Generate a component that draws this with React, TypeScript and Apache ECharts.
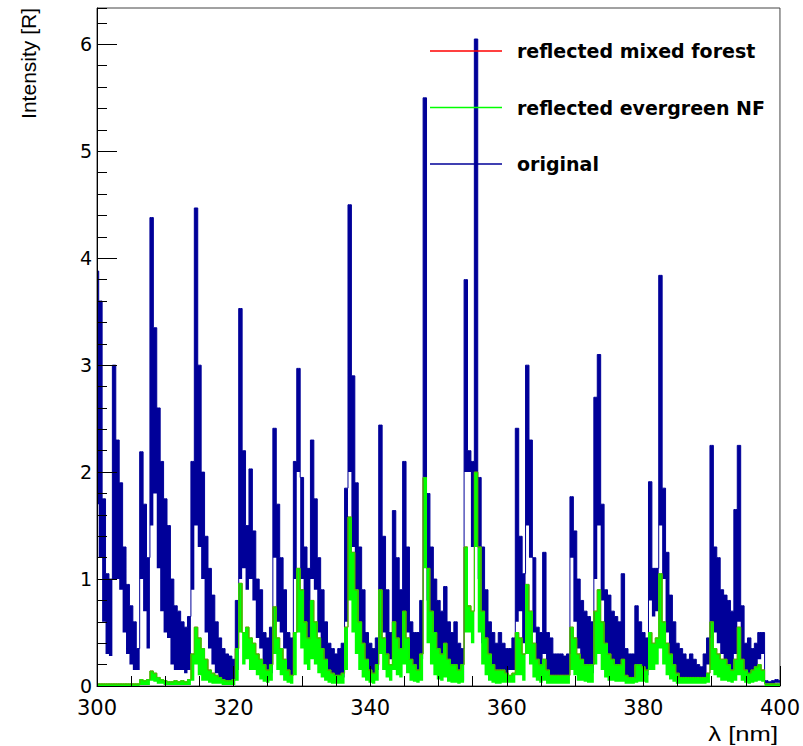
import React, { useEffect, useRef } from 'react';
import * as echarts from 'echarts';

// Wavelength grid: 300 nm to 400 nm in 0.5 nm bins
const wlStart = 300;
const wlStep = 0.5;
const xTickLabels = [300, 320, 340, 360, 380, 400];

// "original" spectrum: upper and lower envelope of the dense histogram per 0.5 nm bin
const originalHi = [
  3.88, 3.6, 1.75, 1.05, 1.0, 3.0, 2.3, 1.9, 1.3, 0.95,
  0.75, 0.6, 0.35, 2.19, 1.7, 1.2, 4.38, 3.35, 2.6, 2.1,
  1.75, 1.5, 1.0, 0.75, 0.7, 0.6, 0.55, 0.65, 2.1, 4.47,
  3.0, 2.0, 1.4, 1.1, 0.85, 0.6, 0.45, 0.35, 0.3, 0.28,
  0.25, 0.8, 3.53, 2.2, 1.5, 2.03, 1.45, 1.0, 0.9, 0.5,
  0.45, 0.55, 2.41, 1.7, 1.2, 0.9, 0.5, 0.45, 2.1, 2.97,
  1.95, 1.3, 1.1, 2.3, 1.75, 1.2, 0.9, 0.6, 0.4, 0.35,
  0.3, 0.35, 0.4, 1.85, 4.5, 2.9, 1.9, 1.3, 0.9, 0.5,
  0.4, 0.35, 0.45, 2.44, 1.4, 0.9, 0.5, 1.64, 1.2, 0.9,
  2.1, 1.3, 0.6, 0.5, 0.5, 0.8, 5.5, 1.8, 1.3, 1.0,
  0.8, 0.7, 0.93, 0.6, 0.5, 0.6, 0.4, 0.35, 3.8, 2.2,
  2.1, 6.05, 1.95, 1.3, 0.9, 0.6, 0.5, 0.4, 0.5, 0.4,
  0.35, 0.35, 0.45, 2.41, 1.4, 1.05, 3.0, 2.3, 1.2, 0.55,
  0.5, 1.25, 0.5, 0.45, 0.3, 0.3, 0.3, 0.28, 0.3, 1.77,
  1.45, 1.0, 0.8, 0.7, 0.65, 0.6, 2.7, 3.1, 1.7, 0.9,
  0.85, 0.7, 0.65, 0.6, 1.05, 0.35, 0.3, 0.3, 0.75, 0.6,
  0.5, 0.45, 1.91, 1.1, 1.1, 3.84, 1.85, 1.25, 0.85, 0.6,
  0.4, 0.35, 0.3, 0.25, 0.3, 0.25, 0.2, 0.18, 0.3, 0.45,
  2.25, 1.3, 1.2, 0.9, 0.85, 0.8, 0.7, 1.65, 2.25, 0.75,
  0.4, 0.45, 0.35, 0.4, 0.5, 0.5, 0.05, 0.04, 0.05, 0.06,
  0.05,
];
const originalLo = [
  1.7, 1.2, 0.6, 0.3, 0.28, 1.0, 1.0, 0.9, 0.5, 0.3,
  0.2, 0.15, 0.15, 1.0, 0.7, 0.35, 1.5, 1.8, 1.1, 0.7,
  0.5, 0.45, 0.2, 0.15, 0.15, 0.15, 0.12, 0.15, 0.9, 1.5,
  1.3, 1.0, 0.5, 0.35, 0.2, 0.12, 0.08, 0.06, 0.05, 0.04,
  0.05, 0.15, 1.0, 1.1, 0.9, 1.0, 0.8, 0.45, 0.35, 0.15,
  0.1, 0.12, 1.2, 0.6, 0.5, 0.35, 0.12, 0.1, 1.0, 2.0,
  1.0, 0.6, 0.4, 1.0, 0.9, 0.5, 0.35, 0.2, 0.1, 0.08,
  0.06, 0.05, 0.08, 0.6, 2.0, 1.3, 0.8, 0.4, 0.25, 0.12,
  0.08, 0.1, 0.15, 0.6, 0.5, 0.3, 0.25, 0.6, 0.45, 0.35,
  0.6, 0.5, 0.2, 0.15, 0.12, 0.25, 1.5, 0.8, 0.4, 0.25,
  0.2, 0.15, 0.2, 0.1, 0.08, 0.06, 0.05, 0.05, 2.0, 2.0,
  1.3, 2.0, 1.0, 0.4, 0.25, 0.12, 0.08, 0.06, 0.05, 0.1,
  0.12, 0.15, 0.15, 0.6, 0.7, 0.4, 1.5, 1.2, 0.5, 0.2,
  0.15, 0.3, 0.12, 0.1, 0.05, 0.05, 0.1, 0.08, 0.1, 1.2,
  0.6, 0.35, 0.25, 0.2, 0.15, 0.12, 1.0, 1.5, 0.8, 0.35,
  0.2, 0.2, 0.15, 0.15, 0.2, 0.05, 0.05, 0.06, 0.1, 0.12,
  0.1, 0.1, 0.8, 0.65, 0.7, 1.5, 1.0, 0.5, 0.3, 0.15,
  0.08, 0.05, 0.05, 0.04, 0.05, 0.04, 0.03, 0.03, 0.05, 0.2,
  0.6, 0.5, 0.4, 0.3, 0.25, 0.2, 0.15, 0.3, 0.6, 0.2,
  0.1, 0.05, 0.05, 0.08, 0.25, 0.3, 0.02, 0.02, 0.02, 0.03,
  0.03,
];

// "reflected evergreen NF": upper and lower envelope per bin
const evergreenHi = [
  0.02, 0.02, 0.02, 0.02, 0.02, 0.02, 0.02, 0.02, 0.02, 0.02,
  0.02, 0.02, 0.02, 0.06, 0.05, 0.06, 0.14, 0.12, 0.08, 0.06,
  0.05, 0.04, 0.04, 0.05, 0.04, 0.05, 0.04, 0.06, 0.3, 0.55,
  0.45, 0.35, 0.25, 0.15, 0.12, 0.1, 0.08, 0.06, 0.05, 0.05,
  0.06, 0.35, 0.96, 0.5, 0.55, 0.45, 0.4, 0.3, 0.25, 0.2,
  0.15, 0.2, 0.74, 0.45, 0.35, 0.25, 0.15, 0.1, 0.5, 1.1,
  0.9, 0.6, 0.45, 0.8, 0.6, 0.45, 0.35, 0.25, 0.15, 0.12,
  0.1, 0.1, 0.12, 0.55, 1.58, 1.25, 0.9, 0.6, 0.4, 0.25,
  0.15, 0.12, 0.2, 0.9, 0.45, 0.3, 0.2, 0.6, 0.45, 0.35,
  0.7, 0.45, 0.25, 0.2, 0.15, 0.3, 1.95, 1.1, 0.7, 0.5,
  0.35, 0.3, 0.4, 0.25, 0.2, 0.2, 0.15, 0.2, 1.3, 0.75,
  0.7, 2.0, 1.3, 0.7, 0.45, 0.3, 0.2, 0.15, 0.15, 0.15,
  0.12, 0.1, 0.12, 0.5, 0.45, 0.3, 0.95, 0.7, 0.4, 0.25,
  0.2, 0.25, 0.15, 0.1, 0.1, 0.1, 0.1, 0.1, 0.1, 0.55,
  0.45, 0.3, 0.25, 0.2, 0.2, 0.2, 0.7, 0.9, 0.6, 0.4,
  0.3, 0.25, 0.2, 0.2, 0.25, 0.1, 0.08, 0.08, 0.2, 0.2,
  0.18, 0.15, 0.5, 0.4, 0.45, 1.05, 0.6, 0.4, 0.3, 0.2,
  0.12, 0.08, 0.08, 0.08, 0.08, 0.08, 0.08, 0.08, 0.08, 0.12,
  0.6, 0.35, 0.3, 0.25, 0.25, 0.2, 0.15, 0.25, 0.55, 0.25,
  0.15, 0.12, 0.15, 0.18, 0.2, 0.15, 0.02, 0.02, 0.02, 0.02,
  0.02,
];
const evergreenLo = [
  0, 0, 0, 0, 0, 0, 0, 0, 0, 0,
  0, 0, 0, 0.01, 0.01, 0.01, 0.05, 0.04, 0.02, 0.02,
  0.01, 0.01, 0.01, 0.01, 0.01, 0.01, 0.01, 0.01, 0.05, 0.2,
  0.1, 0.05, 0.05, 0.03, 0.02, 0.02, 0.02, 0.01, 0.01, 0.01,
  0.01, 0.05, 0.5, 0.2, 0.25, 0.15, 0.15, 0.1, 0.06, 0.04,
  0.03, 0.05, 0.3, 0.15, 0.1, 0.05, 0.03, 0.02, 0.1, 0.5,
  0.35, 0.2, 0.15, 0.25, 0.2, 0.12, 0.08, 0.05, 0.03, 0.02,
  0.02, 0.02, 0.02, 0.15, 0.8, 0.5, 0.3, 0.15, 0.08, 0.05,
  0.03, 0.02, 0.05, 0.3, 0.15, 0.08, 0.05, 0.15, 0.1, 0.08,
  0.2, 0.12, 0.05, 0.04, 0.03, 0.05, 1.1, 0.4, 0.2, 0.1,
  0.06, 0.05, 0.08, 0.04, 0.03, 0.03, 0.02, 0.03, 0.5, 0.5,
  0.4, 1.3, 0.5, 0.2, 0.1, 0.05, 0.03, 0.02, 0.02, 0.03,
  0.03, 0.03, 0.03, 0.1, 0.1, 0.05, 0.3, 0.2, 0.08, 0.05,
  0.03, 0.05, 0.02, 0.02, 0.02, 0.02, 0.02, 0.02, 0.02, 0.15,
  0.1, 0.05, 0.05, 0.04, 0.03, 0.03, 0.2, 0.3, 0.15, 0.08,
  0.05, 0.05, 0.04, 0.04, 0.04, 0.02, 0.02, 0.02, 0.03, 0.04,
  0.04, 0.03, 0.15, 0.15, 0.2, 0.35, 0.2, 0.1, 0.06, 0.04,
  0.02, 0.02, 0.02, 0.02, 0.02, 0.02, 0.02, 0.02, 0.02, 0.03,
  0.15, 0.1, 0.08, 0.05, 0.05, 0.04, 0.03, 0.05, 0.1, 0.05,
  0.03, 0.02, 0.03, 0.04, 0.05, 0.04, 0, 0, 0, 0,
  0,
];

// "reflected mixed forest" coincides with the evergreen curve (hidden below it)
const mixedForest = evergreenHi;

const legendNames = ['reflected mixed forest', 'reflected evergreen NF', 'original'];

const NAVY = '#000099';
const GREEN = '#00ff00';
const RED = '#ff0000';

export default function App() {
  const ref = useRef<HTMLDivElement>(null);

  useEffect(() => {
    if (!ref.current) return;
    const chart = echarts.init(ref.current, null, { renderer: 'svg' });
    const categories = originalHi.map((_, i) => String(wlStart + i * wlStep));
    const band = (hi: number[], lo: number[]) => hi.map((v, i) => Math.max(0, +(v - lo[i]).toFixed(4)));

    const common: any = {
      type: 'line',
      step: 'middle',
      symbol: 'none',
      silent: true,
      xAxisIndex: 0,
      yAxisIndex: 0,
      animation: false,
    };

    chart.setOption({
      animation: false,
      backgroundColor: '#ffffff',
      grid: {
        left: 97,
        right: 23,
        top: 8,
        bottom: 60,
        show: true,
        borderColor: '#444',
        borderWidth: 1,
        backgroundColor: 'transparent',
      },
      xAxis: [
        {
          type: 'category',
          data: categories,
          boundaryGap: false,
          show: false,
        },
        {
          type: 'value',
          min: 300,
          max: 400,
          interval: 20,
          position: 'bottom',
          z: 10,
          axisLine: { show: true, onZero: false, lineStyle: { color: '#000', width: 1 } },
          axisTick: { show: true, inside: true, length: 20, lineStyle: { color: '#000', width: 1 } },
          minorTick: { show: true, splitNumber: 4, length: 10, lineStyle: { color: '#000', width: 1 } },
          splitLine: { show: false },
          minorSplitLine: { show: false },
          axisLabel: {
            color: '#000',
            fontFamily: 'DejaVu Sans',
            fontSize: 21,
            margin: 11,
            formatter: (v: number) => (xTickLabels.includes(v) ? String(v) : ''),
          },
        },
      ],
      yAxis: [
        {
          type: 'value',
          min: 0,
          max: 6.34,
          interval: 1,
          position: 'left',
          z: 10,
          axisLine: { show: true, onZero: false, lineStyle: { color: '#000', width: 1 } },
          axisTick: { show: true, inside: true, length: 20, lineStyle: { color: '#000', width: 1 } },
          splitLine: { show: false },
          axisLabel: {
            color: '#000',
            fontFamily: 'DejaVu Sans',
            fontSize: 19,
            margin: 5,
            showMaxLabel: false,
            formatter: (v: number) => (Number.isInteger(v) ? String(v) : ''),
          },
        },
        {
          type: 'value',
          min: 0,
          max: 6.34,
          interval: 0.2,
          position: 'left',
          offset: 0,
          z: 10,
          axisLine: { show: false },
          axisTick: { show: true, inside: true, length: 10, lineStyle: { color: '#000', width: 1 } },
          splitLine: { show: false },
          axisLabel: { show: false },
        },
      ],
      legend: {
        data: legendNames,
        orient: 'vertical',
        left: 430,
        top: 41,
        padding: 0,
        itemGap: 36.5,
        itemWidth: 72,
        itemHeight: 1.5,
        icon: 'rect',
        selectedMode: false,
        textStyle: {
          fontFamily: 'DejaVu Sans',
          fontWeight: 'bold',
          fontSize: 19,
          lineHeight: 20,
          color: '#000',
          padding: [0, 0, 0, 10],
        },
      },
      graphic: [
        {
          type: 'text',
          x: 28,
          y: 8,
          rotation: Math.PI / 2,
          style: {
            text: 'Intensity [R]',
            fontFamily: 'Liberation Sans',
            fontSize: 21,
            fill: '#000',
            align: 'right',
            verticalAlign: 'middle',
          },
        },
        {
          type: 'text',
          x: 778,
          y: 734,
          scaleX: 1.22,
          style: {
            text: 'λ [nm]',
            fontFamily: 'Liberation Sans',
            fontSize: 21,
            fill: '#000',
            align: 'right',
            verticalAlign: 'middle',
          },
        },
      ],
      series: [
        {
          ...common,
          name: 'origLo',
          data: originalLo,
          stack: 'orig',
          color: NAVY,
          lineStyle: { width: 0, opacity: 0 },
        },
        {
          ...common,
          name: 'origBand',
          data: band(originalHi, originalLo),
          stack: 'orig',
          color: NAVY,
          lineStyle: { width: 0, opacity: 0 },
          areaStyle: { color: NAVY, opacity: 1 },
        },
        {
          ...common,
          name: 'original',
          data: originalHi,
          color: NAVY,
          lineStyle: { color: NAVY, width: 1 },
        },
        {
          ...common,
          name: 'reflected mixed forest',
          data: mixedForest,
          color: RED,
          lineStyle: { color: RED, width: 1 },
        },
        {
          ...common,
          name: 'greenLo',
          data: evergreenLo,
          stack: 'green',
          color: GREEN,
          lineStyle: { width: 0, opacity: 0 },
        },
        {
          ...common,
          name: 'greenBand',
          data: band(evergreenHi, evergreenLo),
          stack: 'green',
          color: GREEN,
          lineStyle: { width: 0, opacity: 0 },
          areaStyle: { color: GREEN, opacity: 1 },
        },
        {
          ...common,
          name: 'reflected evergreen NF',
          data: evergreenHi,
          color: GREEN,
          lineStyle: { color: GREEN, width: 1 },
        },
      ],
    });

    return () => chart.dispose();
  }, []);

  return (
    <div
      ref={ref}
      style={{ position: 'absolute', left: 0, top: 0, width: 803, height: 746 }}
    />
  );
}
